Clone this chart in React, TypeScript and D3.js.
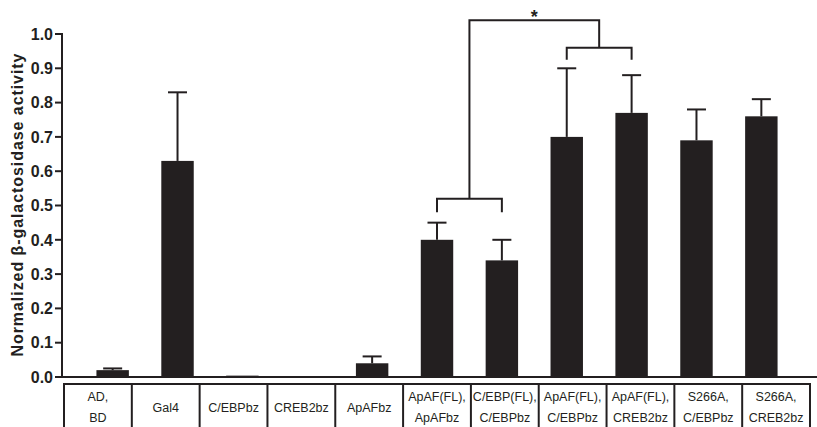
import React from "react";
import * as d3 from "d3";

// Categories (two lines each in the table below the axis)
const categories = [
  ["AD,", "BD"],
  ["Gal4"],
  ["C/EBPbz"],
  ["CREB2bz"],
  ["ApAFbz"],
  ["ApAF(FL),", "ApAFbz"],
  ["C/EBP(FL),", "C/EBPbz"],
  ["ApAF(FL),", "C/EBPbz"],
  ["ApAF(FL),", "CREB2bz"],
  ["S266A,", "C/EBPbz"],
  ["S266A,", "CREB2bz"],
];
const means = [0.02, 0.63, 0.004, 0.002, 0.04, 0.4, 0.34, 0.7, 0.77, 0.69, 0.76];
const errTops = [0.025, 0.83, 0.004, 0.002, 0.06, 0.45, 0.4, 0.9, 0.88, 0.78, 0.81];
const yTicks = [0, 0.1, 0.2, 0.3, 0.4, 0.5, 0.6, 0.7, 0.8, 0.9, 1.0];

// significance brackets: level of the bar and end of the arms
const brackets = [
  { from: 5, to: 6, level: 0.52, arm: 0.48 },
  { from: 7, to: 8, level: 0.96, arm: 0.925 },
];

const W = 817;
const H = 427;
const ink = "#231f20";

export default function App() {
  const keys = categories.map((c, i) => String(i));
  const x = d3.scaleBand().domain(keys).range([64, 810]).padding(0.5);
  const band = d3.scaleBand().domain(keys).range([64, 810]).padding(0);
  const y = d3.scaleLinear().domain([0, 1]).range([377, 34]);
  const cx = (i: number) => (x(String(i)) as number) + x.bandwidth() / 2;

  const b1mid = (cx(brackets[0].from) + cx(brackets[0].to)) / 2;
  const b2mid = (cx(brackets[1].from) + cx(brackets[1].to)) / 2;
  const topLevel = 1.04;

  return (
    <svg
      width={W}
      height={H}
      style={{ position: "absolute", left: 0, top: 0, background: "#fff" }}
      fontFamily="'Liberation Sans', Arial, sans-serif"
    >
      {/* bars */}
      {means.map((m, i) => (
        <rect
          key={"b" + i}
          x={x(String(i))}
          y={y(m)}
          width={x.bandwidth()}
          height={y(0) - y(m)}
          fill={ink}
        />
      ))}
      {/* error bars */}
      {means.map((m, i) =>
        errTops[i] - m > 0.003 ? (
          <g key={"e" + i} stroke={ink} strokeWidth={2}>
            <line x1={cx(i)} x2={cx(i)} y1={y(m)} y2={y(errTops[i])} />
            <line x1={cx(i) - 9.5} x2={cx(i) + 9.5} y1={y(errTops[i])} y2={y(errTops[i])} />
          </g>
        ) : null
      )}

      {/* y axis */}
      <line x1={62} x2={62} y1={y(1) - 1} y2={y(0) + 1} stroke={ink} strokeWidth={2} />
      <line x1={61} x2={W} y1={y(0)} y2={y(0)} stroke={ink} strokeWidth={2} />
      {yTicks.map((t) => (
        <g key={"t" + t}>
          <line x1={55} x2={62} y1={y(t)} y2={y(t)} stroke={ink} strokeWidth={2} />
          <text
            x={53}
            y={y(t)}
            dy="0.36em"
            textAnchor="end"
            fontSize={16}
            fontWeight="bold"
            fill={ink}
          >
            {d3.format(".1f")(t)}
          </text>
        </g>
      ))}
      <text
        transform={`translate(23,205) rotate(-90)`}
        textAnchor="middle"
        fontSize={16}
        fontWeight="bold"
        fill={ink}
        textLength={303}
        lengthAdjust="spacing"
      >
        Normalized β-galactosidase activity
      </text>

      {/* significance brackets */}
      <g stroke={ink} strokeWidth={2} fill="none">
        {brackets.map((b, k) => (
          <path
            key={"br" + k}
            d={`M${cx(b.from)},${y(b.arm)}V${y(b.level)}H${cx(b.to)}V${y(b.arm)}`}
          />
        ))}
        <path d={`M${b1mid},${y(brackets[0].level)}V${y(topLevel)}H${b2mid}V${y(brackets[1].level)}`} />
      </g>
      <text
        x={(b1mid + b2mid) / 2}
        y={y(topLevel) + 3}
        textAnchor="middle"
        fontSize={18}
        fontWeight="bold"
        fill={ink}
      >
        *
      </text>

      {/* table */}
      <g stroke={ink} strokeWidth={2} fill="none">
        <line x1={63} x2={811} y1={384} y2={384} />
        {keys.map((k) => (
          <line key={"v" + k} x1={band(k)} x2={band(k)} y1={383} y2={H} />
        ))}
        <line x1={810} x2={810} y1={383} y2={H} />
      </g>
      {categories.map((lines, i) => {
        const mid = (band(String(i)) as number) + band.bandwidth() / 2;
        return (
          <text key={"c" + i} textAnchor="middle" fontSize={12.5} fill={ink}>
            {lines.length === 1 ? (
              <tspan x={mid} y={408} dy="0.35em">
                {lines[0]}
              </tspan>
            ) : (
              lines.map((l, j) => (
                <tspan key={j} x={mid} y={397 + j * 21} dy="0.35em">
                  {l}
                </tspan>
              ))
            )}
          </text>
        );
      })}
    </svg>
  );
}
